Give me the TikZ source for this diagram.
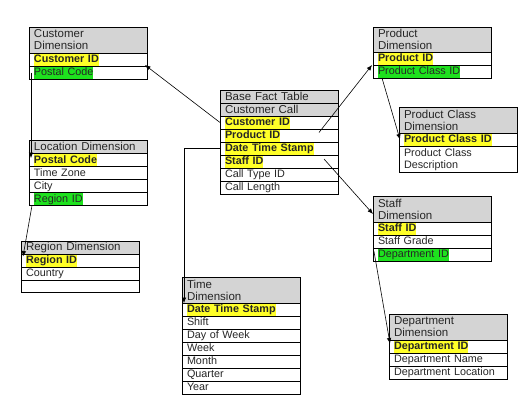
\documentclass[tikz,border=0pt]{standalone}
\usepackage{fontspec}
\setmainfont{Liberation Sans}
\usetikzlibrary{positioning,arrows.meta}
\definecolor{headgray}{RGB}{212,212,212}
\definecolor{keyyellow}{RGB}{255,255,40}
\definecolor{fkgreen}{RGB}{30,225,30}
\newcommand{\pk}[1]{{\setlength{\fboxsep}{0pt}\colorbox{keyyellow}{\rule[-3pt]{0pt}{12pt}\bfseries #1}}}
\newcommand{\fk}[1]{{\setlength{\fboxsep}{0pt}\colorbox{fkgreen}{\rule[-3pt]{0pt}{12pt}#1}}}
\tikzset{
  cell/.style={draw, line width=0.8pt, outer sep=0pt, inner xsep=5pt, inner ysep=0pt,
    text width=108pt, align=left, text=black!85},
  head/.style={cell, fill=headgray, anchor=north west, minimum height=13.5pt,
    font=\fontsize{11.5}{12}\selectfont},
  headtwo/.style={head, minimum height=26pt},
  row/.style={cell, fill=white, minimum height=13pt, font=\fontsize{10.8}{12}\selectfont,
    execute at begin node={\rule[-3pt]{0pt}{12pt}}},
  rowtwo/.style={row, minimum height=26.5pt},
  link/.style={-{Latex[length=5.5pt,width=4.5pt]}, line width=0.6pt}
}
\begin{document}
\begin{tikzpicture}[x=1pt,y=-1pt]
                \useasboundingbox (0,0) rectangle (528,410);
                \node[headtwo] (cd1) at (29,27) {Customer\\Dimension};
                \node[row, below=0pt of cd1] (cd2) {\pk{Customer ID}};
                \node[row, below=0pt of cd2] (cd3) {\fk{Postal Code}};
                \node[head] (lo1) at (29,140) {Location Dimension};
                \node[row, below=0pt of lo1] (lo2) {\pk{Postal Code}};
                \node[row, below=0pt of lo2] (lo3) {Time Zone};
                \node[row, below=0pt of lo3] (lo4) {City};
                \node[row, below=0pt of lo4] (lo5) {\fk{Region ID}};
                \node[head, minimum height=13pt] (rg1) at (21,241) {Region Dimension};
                \node[row, below=0pt of rg1] (rg2) {\pk{Region ID}};
                \node[row, below=0pt of rg2] (rg3) {Country};
                \node[row, below=0pt of rg3, minimum height=12pt] (rg4) {};
                \node[head] (bf1) at (220,90) {Base Fact Table};
                \node[head, below=0pt of bf1, minimum height=12.5pt] (bf2) {Customer Call};
                \node[row, below=0pt of bf2] (bf3) {\pk{Customer ID}};
                \node[row, below=0pt of bf3] (bf4) {\pk{Product ID}};
                \node[row, below=0pt of bf4] (bf5) {\pk{Date Time Stamp}};
                \node[row, below=0pt of bf5] (bf6) {\pk{Staff ID}};
                \node[row, below=0pt of bf6] (bf7) {Call Type ID};
                \node[row, below=0pt of bf7] (bf8) {Call Length};
                \node[headtwo] (tm1) at (182,277) {Time\\Dimension};
                \node[row, below=0pt of tm1] (tm2) {\pk{Date Time Stamp}};
                \node[row, below=0pt of tm2] (tm3) {Shift};
                \node[row, below=0pt of tm3] (tm4) {Day of Week};
                \node[row, below=0pt of tm4] (tm5) {Week};
                \node[row, below=0pt of tm5] (tm6) {Month};
                \node[row, below=0pt of tm6] (tm7) {Quarter};
                \node[row, below=0pt of tm7] (tm8) {Year};
                \node[headtwo, minimum height=25pt] (pd1) at (373,27) {Product\\Dimension};
                \node[row, below=0pt of pd1] (pd2) {\pk{Product ID}};
                \node[row, below=0pt of pd2] (pd3) {\fk{Product Class ID}};
                \node[headtwo] (pc1) at (399,107) {Product Class\\Dimension};
                \node[row, below=0pt of pc1] (pc2) {\pk{Product Class ID}};
                \node[rowtwo, below=0pt of pc2] (pc3) {Product Class\\Description};
                \node[headtwo] (st1) at (373,196) {Staff\\Dimension};
                \node[row, below=0pt of st1] (st2) {\pk{Staff ID}};
                \node[row, below=0pt of st2] (st3) {Staff Grade};
                \node[row, below=0pt of st3] (st4) {\fk{Department ID}};
                \node[headtwo] (dp1) at (389,314) {Department\\Dimension};
                \node[row, below=0pt of dp1] (dp2) {\pk{Department ID}};
                \node[row, below=0pt of dp2] (dp3) {Department Name};
                \node[row, below=0pt of dp3] (dp4) {Department Location};
                \draw[link] (bf3.west) -- ([xshift=-2pt,yshift=1pt]cd2.south east);
                \draw[link] ([xshift=2pt]cd3.west) -- ([xshift=2pt,yshift=2pt]lo2.west);
                \draw[link] ([xshift=3pt]lo5.south west) -- ([xshift=2pt,yshift=-2.5pt]rg2.north west);
                \draw[link] (bf5.west) -| ([xshift=2pt]tm1.south west);
                \draw[link] ([xshift=-19pt,yshift=3pt]bf4.east) -- ([xshift=-1pt]pd2.south west);
                \draw[link] ([xshift=9pt]pd3.south west) -- ([xshift=1pt]pc2.west);
                \draw[link] ([xshift=-14pt,yshift=2.5pt]bf6.east) -- ([yshift=8pt]st1.south west);
                \draw[link] ([xshift=1pt,yshift=3pt]st4.west) -- ([xshift=1pt,yshift=3pt]dp2.west);
            \end{tikzpicture}
\end{document}
